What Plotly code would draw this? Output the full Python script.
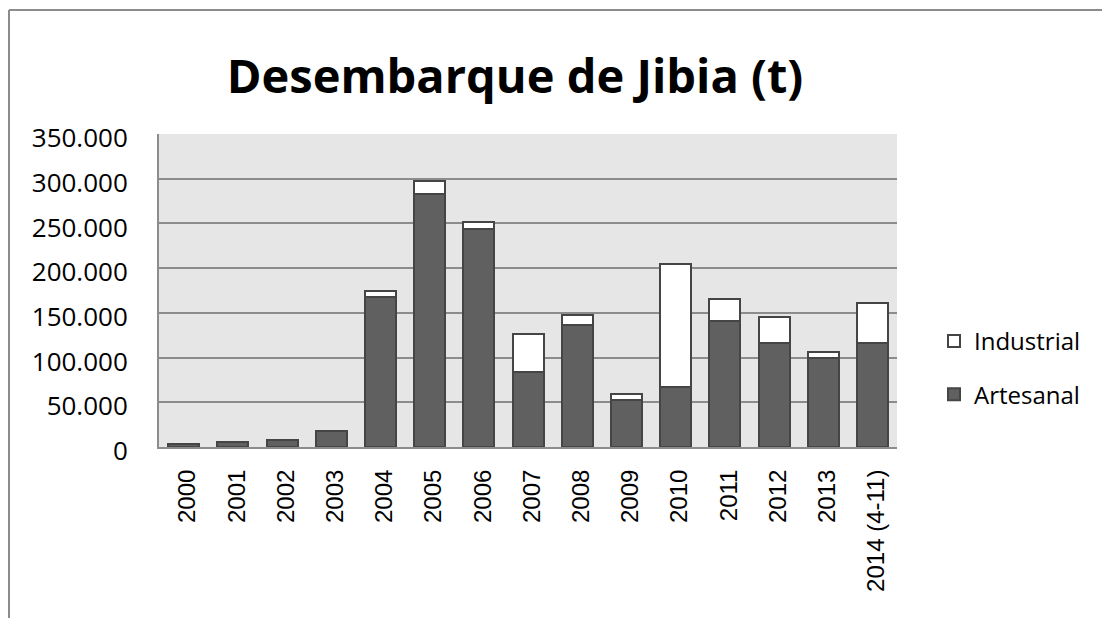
import plotly.graph_objects as go

years = ["2000", "2001", "2002", "2003", "2004", "2005", "2006", "2007",
         "2008", "2009", "2010", "2011", "2012", "2013", "2014 (4-11)"]
artesanal = [3500, 5500, 8000, 17500, 168000, 283000, 244000, 84000,
             136000, 52500, 67000, 141000, 116000, 100000, 116000]
industrial = [300, 200, 300, 400, 7000, 15000, 7500, 42000,
              12000, 6700, 137600, 24000, 29000, 6300, 44500]
y_ticks = [0, 50000, 100000, 150000, 200000, 250000, 300000, 350000]
y_labels = ["0", "50.000", "100.000", "150.000", "200.000", "250.000", "300.000", "350.000"]

fig = go.Figure()
fig.add_trace(go.Bar(
    x=years, y=artesanal, name="Artesanal", legendgroup="a", legendrank=2,
    marker=dict(color="#606060", line=dict(color="#454545", width=2)),
))
fig.add_trace(go.Bar(
    x=years, y=industrial, name="Industrial", legendgroup="i", legendrank=1,
    marker=dict(color="#ffffff", line=dict(color="#454545", width=2)),
))

L, R, T, B = 159, 205, 134, 171
pw, ph = 1102 - L - R, 618 - T - B

def px(x):
    return (x - L) / pw

def py(y):
    return (618 - B - y) / ph

fig.update_layout(
    width=1102, height=618,
    margin=dict(l=L, r=R, t=T, b=B, pad=0),
    barmode="stack", bargap=0.37,
    paper_bgcolor="white", plot_bgcolor="#e6e6e6",
    title=dict(text="<b>Desembarque de Jibia (t)</b>", x=515 / 1102, xanchor="center",
               y=1 - 77 / 618, yanchor="middle",
               font=dict(family="Open Sans", size=47, color="black")),
    legend=dict(traceorder="grouped", tracegroupgap=19, x=px(934), xanchor="left",
                y=py(319), yanchor="top", font=dict(family="Open Sans", size=24, color="black"),
                bgcolor="rgba(0,0,0,0)"),
    showlegend=True,
    xaxis=dict(tickangle=-90, tickfont=dict(family="Liberation Sans", size=24, color="black"),
               showline=True, linecolor="#8c8c8c", linewidth=2, ticks="",
               ticklabelstandoff=11, ticklabelshift=4, showgrid=False),
    yaxis=dict(range=[0, 350000], tickvals=y_ticks, ticktext=y_labels,
               tickfont=dict(family="Open Sans", size=26, color="black"),
               showgrid=True, gridcolor="#8c8c8c", gridwidth=2,
               showline=True, linecolor="#8c8c8c", linewidth=2, ticks="",
               ticklabelstandoff=24, ticklabelshift=4, zeroline=False),
    shapes=[
        dict(type="line", xref="paper", yref="paper", x0=px(9), x1=px(1102),
             y0=py(10), y1=py(10), line=dict(color="#8c8c8c", width=2)),
        dict(type="line", xref="paper", yref="paper", x0=px(9), x1=px(9),
             y0=py(10), y1=py(620), line=dict(color="#8c8c8c", width=2)),
    ],
)

fig.write_html("out.html", config={"displayModeBar": False},
               post_script="document.body.style.margin='0';")
